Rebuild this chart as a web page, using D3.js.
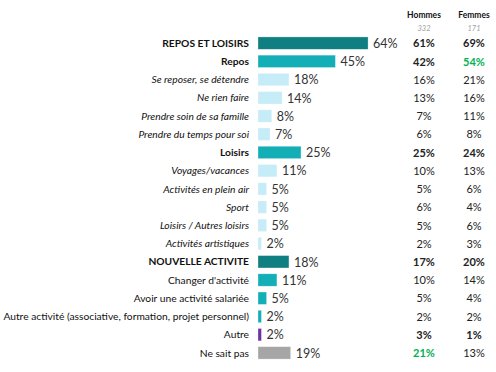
<!DOCTYPE html>
<html>
<head>
<meta charset="utf-8">
<script src="https://cdn.jsdelivr.net/npm/d3@7"></script>
<style>
  body { margin: 0; background: #fff; }
  text { font-family: Lato, "Noto Sans", sans-serif; }
</style>
</head>
<body>
<script>
// data
var categories = [
  "REPOS ET LOISIRS", "Repos", "Se reposer, se détendre", "Ne rien faire",
  "Prendre soin de sa famille", "Prendre du temps pour soi", "Loisirs",
  "Voyages/vacances", "Activités en plein air", "Sport", "Loisirs / Autres loisirs",
  "Activités artistiques", "NOUVELLE ACTIVITE", "Changer d'activité",
  "Avoir une activité salariée", "Autre activité (associative, formation, projet personnel)",
  "Autre", "Ne sait pas"
];
var totalValues  = [64, 45, 18, 14, 8, 7, 25, 11, 5, 5, 5, 2, 18, 11, 5, 2, 2, 19];
var hommesValues = [61, 42, 16, 13, 7, 6, 25, 10, 5, 6, 5, 2, 17, 10, 5, 2, 3, 21];
var femmesValues = [69, 54, 21, 16, 11, 8, 24, 13, 6, 4, 6, 3, 20, 14, 4, 2, 1, 13];
// row kind: theme, group, detail, item, other, nsp
var rowKinds = ["theme", "group", "detail", "detail", "detail", "detail", "group",
  "detail", "detail", "detail", "detail", "detail", "theme", "item", "item", "item",
  "other", "nsp"];
var columns = ["Hommes", "Femmes"];
var bases = ["332", "171"];
// cells shown in green (significantly higher)
var greenCells = [[1, 1], [17, 0]];
// cells shown in bold without being a heading row
var boldCells = [[16, 0], [16, 1]];

var svgWidth = 496, svgHeight = 372;
var svg = d3.select("body").append("svg")
  .attr("width", svgWidth).attr("height", svgHeight);

var barColors = {
  theme: "#107f82", group: "#14aeb6", detail: "#c5ecf7",
  item: "#14aeb6", other: "#7030a0", nsp: "#a6a6a6"
};

var y = d3.scaleBand().domain(d3.range(categories.length))
  .range([34, 362]).paddingInner(0.32).paddingOuter(0.16);
var x = d3.scaleLinear().domain([0, 100]).range([258, 430]);
var colX = d3.scalePoint().domain(columns).range([424, 474]);

// headers
svg.selectAll(".head").data(columns).enter().append("text")
  .attr("x", function(d) { return colX(d); })
  .attr("y", 18)
  .attr("text-anchor", "middle")
  .style("font-size", "8.5px").style("font-weight", "bold").attr("fill", "#111")
  .text(function(d) { return d; });
svg.selectAll(".base").data(columns).enter().append("text")
  .attr("x", function(d) { return colX(d); })
  .attr("y", 30.5)
  .attr("text-anchor", "middle")
  .style("font-size", "7.5px").style("font-style", "italic").attr("fill", "#a0a0a0")
  .text(function(d, i) { return bases[i]; });

var rows = svg.selectAll(".row").data(categories).enter().append("g")
  .attr("transform", function(d, i) { return "translate(0," + y(i) + ")"; });
var bh = y.bandwidth();

rows.append("text")
  .attr("x", 249).attr("y", bh / 2).attr("dy", "0.36em")
  .attr("text-anchor", "end")
  .style("font-size", "10.25px")
  .style("font-weight", function(d, i) { return rowKinds[i] == "theme" || rowKinds[i] == "group" ? "bold" : "normal"; })
  .style("font-style", function(d, i) { return rowKinds[i] == "detail" ? "italic" : "normal"; })
  .attr("fill", "#111")
  .text(function(d) { return d; });

rows.append("rect")
  .attr("x", x(0)).attr("y", 0)
  .attr("width", function(d, i) { return x(totalValues[i]) - x(0); })
  .attr("height", bh)
  .attr("fill", function(d, i) { return barColors[rowKinds[i]]; })
  .attr("stroke", "#fff").attr("stroke-opacity", 0.5).attr("stroke-width", 0.6);

rows.append("text")
  .attr("x", function(d, i) { return x(totalValues[i]) + 5; })
  .attr("y", bh / 2).attr("dy", "0.38em")
  .style("font-size", "12.5px").attr("fill", "#333")
  .text(function(d, i) { return totalValues[i] + "%"; });

function isIn(list, r, c) {
  return list.some(function(p) { return p[0] == r && p[1] == c; });
}

[hommesValues, femmesValues].forEach(function(vals, c) {
  rows.append("text")
    .attr("x", colX(columns[c]))
    .attr("y", bh / 2).attr("dy", "0.38em")
    .attr("text-anchor", "middle")
    .style("font-size", "11px")
    .style("font-weight", function(d, i) {
      var heading = rowKinds[i] == "theme" || rowKinds[i] == "group";
      return heading || isIn(boldCells, i, c) || isIn(greenCells, i, c) ? "bold" : "normal";
    })
    .attr("fill", function(d, i) { return isIn(greenCells, i, c) ? "#00b050" : "#222"; })
    .text(function(d, i) { return vals[i] + "%"; });
});
</script>
</body>
</html>
